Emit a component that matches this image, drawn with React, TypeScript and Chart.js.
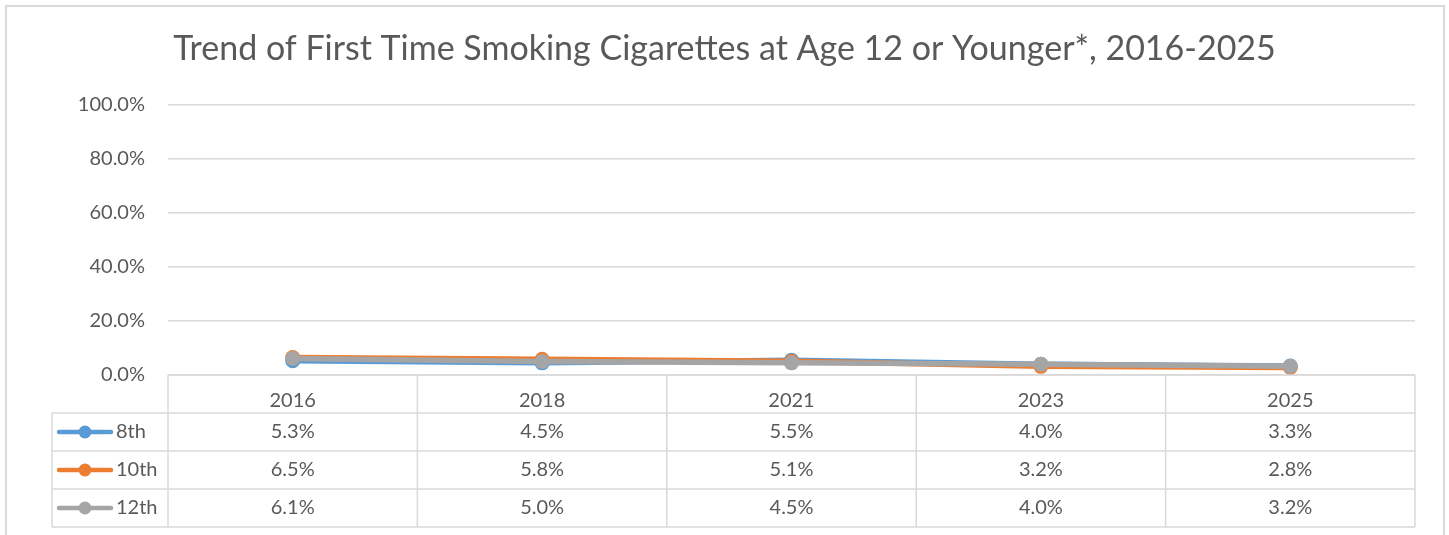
import React, { useEffect, useRef } from "react";
import { Chart, registerables } from "chart.js";

Chart.register(...registerables);

const titleText = "Trend of First Time Smoking Cigarettes at Age 12 or Younger*, 2016-2025";
const categories = ["2016", "2018", "2021", "2023", "2025"];
const seriesNames = ["8th", "10th", "12th"];
const grade8 = [5.3, 4.5, 5.5, 4.0, 3.3];
const grade10 = [6.5, 5.8, 5.1, 3.2, 2.8];
const grade12 = [6.1, 5.0, 4.5, 4.0, 3.2];
const seriesColors = ["#5B9BD5", "#ED7D31", "#A5A5A5"];
const yMin = 0;
const yMax = 100;
const yStep = 20;

const FONT = "Lato, 'Open Sans', sans-serif";
const TEXT = "#595959";
const LINE = "#d9d9d9";
const FS = 20;

const tablePlugin = {
  id: "dataTable",
  afterDraw(chart: any) {
    const ctx = chart.ctx;
    const { left, right, bottom } = chart.chartArea;
    const xs = chart.scales.x;
    const n = categories.length;
    const colW = (right - left) / n;
    const rowH = 38;
    const legendLeft = 52;
    const top = bottom;
    const rows = chart.data.datasets.length;
    ctx.save();
    // outer border
    ctx.strokeStyle = LINE;
    ctx.lineWidth = 2;
    ctx.strokeRect(6, 6, 1438, 600);
    // table grid
    ctx.lineWidth = 1.5;
    ctx.beginPath();
    ctx.moveTo(left, top);
    ctx.lineTo(right, top);
    for (let r = 1; r <= rows + 1; r++) {
      const y = top + r * rowH;
      ctx.moveTo(legendLeft, y);
      ctx.lineTo(right, y);
    }
    ctx.moveTo(legendLeft, top + rowH);
    ctx.lineTo(legendLeft, top + (rows + 1) * rowH);
    for (let i = 0; i <= n; i++) {
      const x = left + i * colW;
      ctx.moveTo(x, top);
      ctx.lineTo(x, top + (rows + 1) * rowH);
    }
    ctx.stroke();

    ctx.font = `${FS}px ${FONT}`;
    ctx.textBaseline = "middle";
    chart.data.datasets.forEach((ds: any, r: number) => {
      const cy = top + rowH * (r + 1) + rowH / 2;
      // legend key
      ctx.strokeStyle = ds.borderColor;
      ctx.lineWidth = 4.5;
      ctx.lineCap = "round";
      ctx.beginPath();
      ctx.moveTo(59, cy);
      ctx.lineTo(111, cy);
      ctx.stroke();
      ctx.fillStyle = ds.borderColor;
      ctx.beginPath();
      ctx.arc(85, cy, 6.5, 0, Math.PI * 2);
      ctx.fill();
      ctx.fillStyle = TEXT;
      ctx.textAlign = "left";
      ctx.fillText(ds.label, 116, cy);
      ctx.textAlign = "center";
      ds.data.forEach((v: number, i: number) => {
        ctx.fillText(v.toFixed(1) + "%", xs.getPixelForValue(i), cy);
      });
    });
    ctx.restore();
  },
};

export default function App() {
  const ref = useRef<HTMLCanvasElement | null>(null);
  useEffect(() => {
    if (!ref.current) return;
    const seriesValues = [grade8, grade10, grade12];
    const chart = new Chart(ref.current, {
      type: "line",
      data: {
        labels: categories,
        datasets: seriesNames.map((name, i) => ({
          label: name,
          data: seriesValues[i],
          order: seriesNames.length - i,
          borderColor: seriesColors[i],
          backgroundColor: seriesColors[i],
          borderWidth: 5.5,
          pointRadius: 7.5,
          pointBorderWidth: 0,
          pointBackgroundColor: seriesColors[i],
          tension: 0,
          clip: false as any,
        })),
      },
      options: {
        animation: false,
        responsive: true,
        maintainAspectRatio: false,
        layout: { padding: { left: 34, right: 34, top: 0, bottom: 0 } },
        plugins: {
          legend: { display: false },
          tooltip: { enabled: false },
          title: {
            display: true,
            text: titleText,
            color: TEXT,
            font: { family: FONT, size: 34, weight: "normal" },
            padding: { top: 29, bottom: 35 },
          },
        },
        scales: {
          x: {
            type: "category",
            offset: true,
            grid: { display: false },
            border: { display: false },
            ticks: {
              color: TEXT,
              font: { family: FONT, size: FS },
              padding: 6,
              maxRotation: 0,
              autoSkip: false,
            },
            afterFit(scale: any) {
              scale.height = 160;
            },
          },
          y: {
            min: yMin,
            max: yMax,
            grid: { color: LINE, lineWidth: 1.5, drawTicks: false },
            border: { display: false },
            ticks: {
              stepSize: yStep,
              color: TEXT,
              font: { family: FONT, size: FS },
              padding: 23,
              callback: (v: any) => Number(v).toFixed(1) + "%",
            },
            afterFit(scale: any) {
              scale.width = 134;
            },
          },
        },
      },
      plugins: [tablePlugin],
    });
    return () => chart.destroy();
  }, []);
  return (
    <div style={{ position: "absolute", left: 0, top: 0, width: 1449, height: 535, background: "#fff" }}>
      <canvas ref={ref} />
    </div>
  );
}
